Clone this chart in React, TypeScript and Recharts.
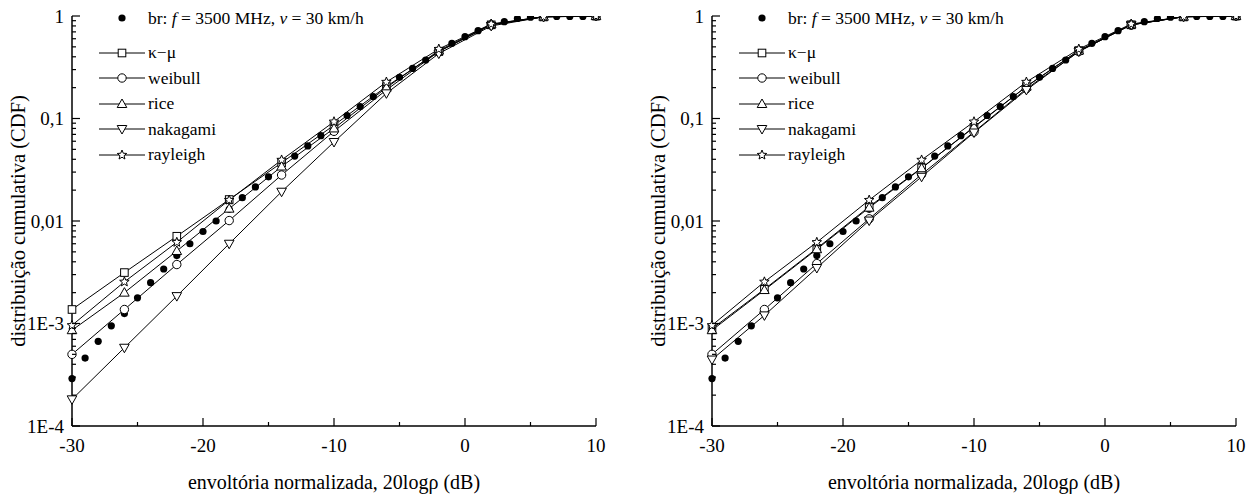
import { LineChart, Line, XAxis, YAxis, Legend } from "recharts";

const FONT = '"Liberation Serif", "Times New Roman", serif';

// measured envelope (br), every 1 dB
const measuredDb = [
  -30, -29, -28, -27, -26, -25, -24, -23, -22, -21, -20, -19, -18, -17, -16, -15, -14, -13, -12, -11, -10,
  -9, -8, -7, -6, -5, -4, -3, -2, -1, 0, 1, 2, 3, 4, 5, 6, 7, 8, 9, 10,
];
const measuredCdf = [
  2.9e-4, 4.6e-4, 6.7e-4, 9.5e-4, 1.25e-3, 1.78e-3, 2.5e-3, 3.4e-3, 4.6e-3, 6.0e-3, 7.9e-3, 0.01, 0.013,
  0.0169, 0.0215, 0.027, 0.034, 0.043, 0.054, 0.068, 0.086, 0.107, 0.131, 0.164, 0.205, 0.252, 0.308,
  0.372, 0.45, 0.541, 0.628, 0.719, 0.8, 0.88, 0.945, 0.975, 0.985, 0.99, 0.99, 0.99, 0.99,
];

// fitted models, markers every 4 dB
const modelDb = [-30, -26, -22, -18, -14, -10, -6, -2, 2, 6, 10];

const kappaMuLeft = [1.37e-3, 3.14e-3, 7.1e-3, 0.0162, 0.037, 0.086, 0.205, 0.45, 0.82, 0.98, 0.999];
const weibullLeft = [5.0e-4, 1.37e-3, 3.76e-3, 0.0101, 0.0281, 0.075, 0.19, 0.45, 0.82, 0.985, 1.0];
const riceLeft = [8.6e-4, 2.0e-3, 5.1e-3, 0.0132, 0.034, 0.08, 0.2, 0.46, 0.83, 0.985, 1.0];
const nakagamiLeft = [1.82e-4, 5.8e-4, 1.85e-3, 6.0e-3, 0.0193, 0.059, 0.176, 0.43, 0.8, 0.98, 1.0];
const rayleighLeft = [9.6e-4, 2.55e-3, 6.2e-3, 0.016, 0.0394, 0.093, 0.227, 0.476, 0.835, 0.985, 1.0];

const kappaMuRight = [8.9e-4, 2.16e-3, 5.4e-3, 0.0138, 0.033, 0.082, 0.205, 0.46, 0.82, 0.98, 1.0];
const weibullRight = [5.0e-4, 1.37e-3, 3.84e-3, 0.0105, 0.0285, 0.074, 0.195, 0.45, 0.82, 0.985, 1.0];
const riceRight = [8.6e-4, 2.12e-3, 5.3e-3, 0.0135, 0.0327, 0.083, 0.205, 0.46, 0.825, 0.985, 1.0];
const nakagamiRight = [4.45e-4, 1.2e-3, 3.48e-3, 0.0101, 0.027, 0.073, 0.19, 0.45, 0.82, 0.985, 1.0];
const rayleighRight = [9.6e-4, 2.55e-3, 6.2e-3, 0.016, 0.0394, 0.093, 0.227, 0.476, 0.835, 0.985, 1.0];

const legendOrder = ["br", "κ−μ", "weibull", "rice", "nakagami", "rayleigh"];

const xTicks = [-30, -25, -20, -15, -10, -5, 0, 5, 10];
const yDecades = [1e-4, 1e-3, 0.01, 0.1, 1];
const yDecadeLabels = ["1E-4", "1E-3", "0,01", "0,1", "1"];
const yMinorSteps = [2, 3, 4, 5, 6, 7, 8, 9];
const yTicks = [
  ...yDecades,
  ...yDecades.slice(0, -1).flatMap((d) => yMinorSteps.map((m) => d * m)),
].sort((a, b) => a - b);

type Shape = "dot" | "square" | "circle" | "up" | "down" | "star";

const toPoints = (xs: number[], ys: number[]) => xs.map((x, i) => ({ x, y: ys[i] }));

function Marker({ shape, cx, cy }: { shape: Shape; cx: number; cy: number }) {
  const st = { fill: "#fff", stroke: "#000", strokeWidth: 1 };
  if (shape === "dot") return <circle cx={cx} cy={cy} r={3.6} fill="#000" />;
  if (shape === "square") return <rect x={cx - 3.8} y={cy - 3.8} width={7.6} height={7.6} {...st} />;
  if (shape === "circle") return <circle cx={cx} cy={cy} r={4.2} {...st} />;
  if (shape === "up")
    return <polygon points={`${cx},${cy - 5} ${cx + 4.8},${cy + 3.5} ${cx - 4.8},${cy + 3.5}`} {...st} />;
  if (shape === "down")
    return <polygon points={`${cx},${cy + 5} ${cx + 4.8},${cy - 3.5} ${cx - 4.8},${cy - 3.5}`} {...st} />;
  const pts: string[] = [];
  for (let i = 0; i < 10; i++) {
    const r = i % 2 === 0 ? 5 : 2.2;
    const a = -Math.PI / 2 + (i * Math.PI) / 5;
    pts.push(`${cx + r * Math.cos(a)},${cy + r * Math.sin(a)}`);
  }
  return <polygon points={pts.join(" ")} {...st} />;
}

const shapeByName: Record<string, Shape> = {
  br: "dot",
  "κ−μ": "square",
  weibull: "circle",
  rice: "up",
  nakagami: "down",
  rayleigh: "star",
};

function YTick(props: any) {
  const { x, y, payload } = props;
  const v = payload.value;
  const idx = yDecades.findIndex((d) => Math.abs(d - v) / d < 1e-6);
  const major = idx >= 0;
  return (
    <g>
      <line x1={x} x2={x + (major ? 8 : 4)} y1={y} y2={y} stroke="#000" strokeWidth={1.2} />
      {major && (
        <text x={x - 8} y={y} dy="0.35em" textAnchor="end" style={{ fontFamily: FONT, fontSize: 19 }} fill="#000">
          {yDecadeLabels[idx]}
        </text>
      )}
    </g>
  );
}

function XTick(props: any) {
  const { x, y, payload } = props;
  const v = payload.value;
  const major = v % 10 === 0;
  return (
    <g>
      <line x1={x} x2={x} y1={y} y2={y - (major ? 8 : 4)} stroke="#000" strokeWidth={1.2} />
      {major && (
        <text x={x} y={y + 19} dy="0.35em" textAnchor="middle" style={{ fontFamily: FONT, fontSize: 19 }} fill="#000">
          {v}
        </text>
      )}
    </g>
  );
}

function LegendBox({ payload }: any) {
  const names = ((payload || []) as any[]).map((it) => it.value as string);
  const items = legendOrder.filter((n) => names.includes(n));
  return (
    <div style={{ fontFamily: FONT, fontSize: 17.5, color: "#000" }}>
      {items.map((name, i) => {
        const shape = shapeByName[name];
        return (
          <div
            key={name}
            style={{ display: "flex", alignItems: "center", height: i === 0 ? 26 : 25.5, marginBottom: i === 0 ? 9 : 0 }}
          >
            <svg width={46} height={16} style={{ marginRight: 3 }}>
              {shape !== "dot" && <line x1={0} x2={46} y1={8} y2={8} stroke="#000" strokeWidth={1} />}
              <Marker shape={shape} cx={23} cy={8} />
            </svg>
            {name === "br" ? (
              <span>
                br: <i>f</i> = 3500 MHz, <i>v</i> = 30 km/h
              </span>
            ) : (
              <span>{name}</span>
            )}
          </div>
        );
      })}
    </div>
  );
}

function CdfPanel({
  width,
  kappaMu,
  weibull,
  rice,
  nakagami,
  rayleigh,
}: {
  width: number;
  kappaMu: number[];
  weibull: number[];
  rice: number[];
  nakagami: number[];
  rayleigh: number[];
}) {
  const models: [string, number[]][] = [
    ["κ−μ", kappaMu],
    ["weibull", weibull],
    ["rice", rice],
    ["nakagami", nakagami],
    ["rayleigh", rayleigh],
  ];
  return (
    <LineChart width={width} height={497} margin={{ top: 16, right: width - 596, bottom: 5, left: 0 }}>
      <XAxis
        type="number"
        dataKey="x"
        domain={[-30, 10]}
        ticks={xTicks}
        interval={0}
        tickSize={0}
        tickMargin={0}
        tick={<XTick />}
        height={66}
        axisLine={{ stroke: "#000", strokeWidth: 1.5 }}
        label={{
          value: "envoltória normalizada, 20logρ (dB)",
          position: "insideBottom",
          offset: 3,
          style: { fontFamily: FONT, fontSize: 20, fill: "#000" },
        }}
      />
      <YAxis
        type="number"
        dataKey="y"
        scale="log"
        domain={[1e-4, 1]}
        allowDataOverflow
        ticks={yTicks}
        interval={0}
        tickSize={0}
        tickMargin={0}
        tick={<YTick />}
        width={72}
        axisLine={{ stroke: "#000", strokeWidth: 1.5 }}
        label={{
          value: "distribuição cumulativa (CDF)",
          angle: -90,
          position: "insideLeft",
          offset: 18,
          style: { fontFamily: FONT, fontSize: 20.5, fill: "#000", textAnchor: "middle" },
        }}
      />
      <Legend
        layout="vertical"
        align="center"
        verticalAlign="middle"
        wrapperStyle={{ left: 99, top: 5, width: "auto" }}
        content={<LegendBox />}
      />
      <Line
        name="br"
        data={toPoints(measuredDb, measuredCdf)}
        dataKey="y"
        stroke="none"
        isAnimationActive={false}
        activeDot={false}
        dot={(p: any) => <Marker key={`br-${p.index}`} shape="dot" cx={p.cx} cy={p.cy} />}
      />
      {models.map(([name, ys]) => (
        <Line
          key={name}
          name={name}
          data={toPoints(modelDb, ys)}
          dataKey="y"
          stroke="#000"
          strokeWidth={1}
          isAnimationActive={false}
          activeDot={false}
          dot={(p: any) => <Marker key={`${name}-${p.index}`} shape={shapeByName[name]} cx={p.cx} cy={p.cy} />}
        />
      ))}
    </LineChart>
  );
}

export default function App() {
  return (
    <div style={{ position: "absolute", left: 0, top: 0, width: 1249, height: 497, background: "#fff" }}>
      <div style={{ position: "absolute", left: 0, top: 0 }}>
        <CdfPanel
          width={620}
          kappaMu={kappaMuLeft}
          weibull={weibullLeft}
          rice={riceLeft}
          nakagami={nakagamiLeft}
          rayleigh={rayleighLeft}
        />
      </div>
      <div style={{ position: "absolute", left: 640, top: 0 }}>
        <CdfPanel
          width={609}
          kappaMu={kappaMuRight}
          weibull={weibullRight}
          rice={riceRight}
          nakagami={nakagamiRight}
          rayleigh={rayleighRight}
        />
      </div>
    </div>
  );
}
